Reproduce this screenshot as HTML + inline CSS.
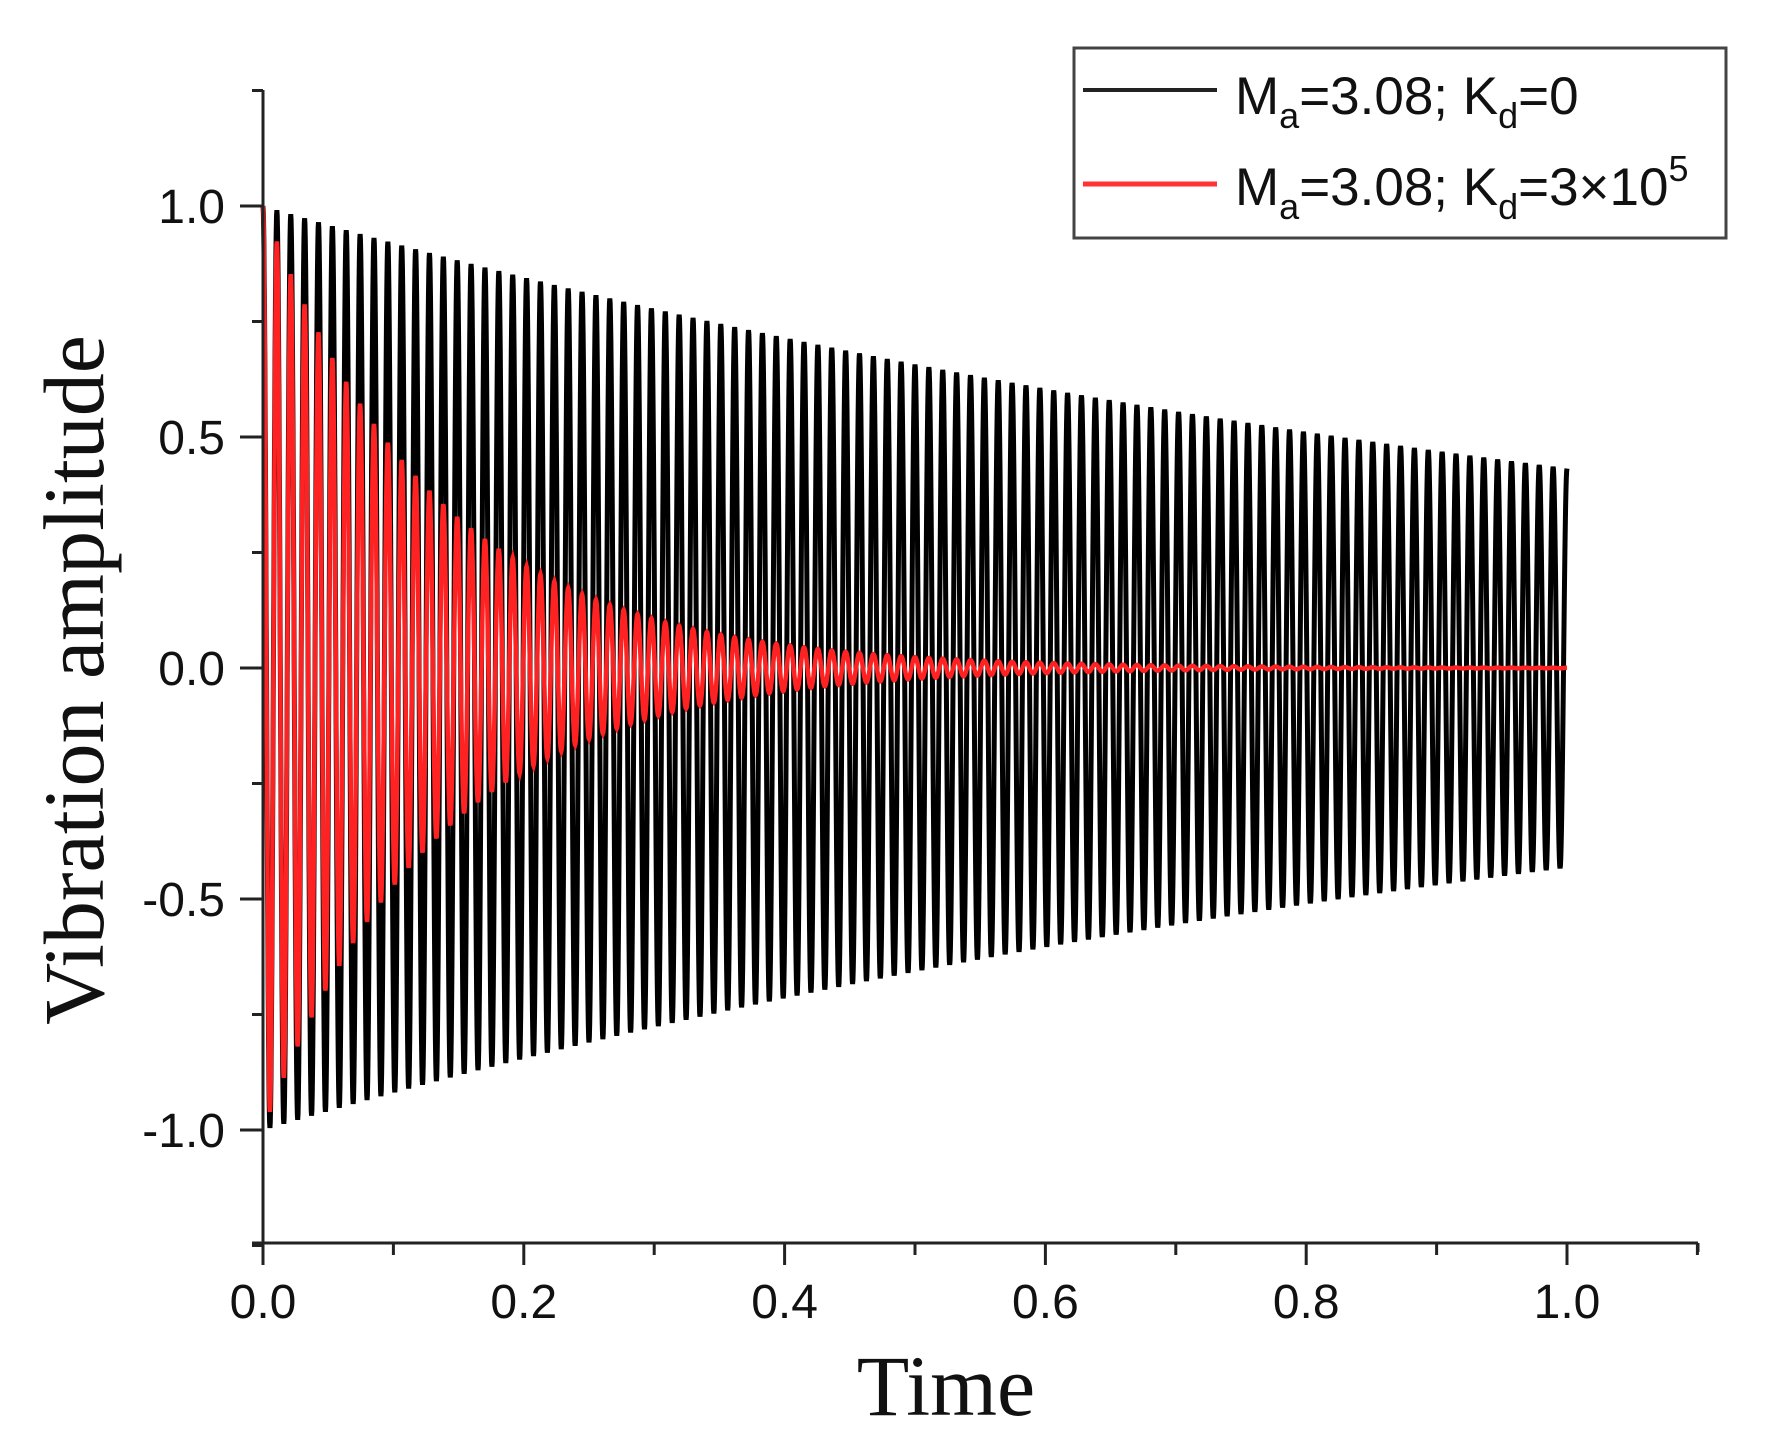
<!DOCTYPE html>
<html><head><meta charset="utf-8"><style>
html,body{margin:0;padding:0;background:#fff;}
svg{display:block;}
</style></head><body>
<svg id="s" width="1781" height="1454" viewBox="0 0 1781 1454" xmlns="http://www.w3.org/2000/svg">
<rect width="1781" height="1454" fill="#fff"/>
<g id="series"></g>
<g stroke="#222" stroke-width="3" fill="none">
<line x1="263" y1="90" x2="263" y2="1243"/>
<line x1="252" y1="1243" x2="1698" y2="1243"/>
<line x1="1698" y1="1243" x2="1698" y2="1252"/>
</g>
<g id="ticks" stroke="#222" stroke-width="3"></g>
<g font-family="Liberation Sans, sans-serif" font-size="48" fill="#111" id="lbl"></g>
<text x="946" y="1415" font-family="Liberation Serif, serif" font-size="86" text-anchor="middle" fill="#111">Time</text>
<text transform="translate(103,680) rotate(-90)" font-family="Liberation Serif, serif" font-size="86" text-anchor="middle" fill="#111">Vibration amplitude</text>
<rect x="1074" y="48" width="652" height="190" fill="#fff" stroke="#444" stroke-width="3"/>
<line x1="1083" y1="90" x2="1217" y2="90" stroke="#222" stroke-width="4"/>
<line x1="1083" y1="184" x2="1217" y2="184" stroke="#f33" stroke-width="5"/>
<g font-family="Liberation Sans, sans-serif" font-size="53" fill="#111">
<text x="1235" y="114">M<tspan font-size="36" dy="14">a</tspan><tspan dy="-14">=3.08; K</tspan><tspan font-size="36" dy="14">d</tspan><tspan dy="-14">=0</tspan></text>
<text x="1235" y="205">M<tspan font-size="36" dy="14">a</tspan><tspan dy="-14">=3.08; K</tspan><tspan font-size="36" dy="14">d</tspan><tspan dy="-14">=3×10</tspan><tspan font-size="36" dy="-24">5</tspan></text>
</g>
</svg>
<script>
var X0=263,XS=1304,Y0=668,YS=462,NS="http://www.w3.org/2000/svg";
function px(t){return X0+t*XS;}function py(v){return Y0-v*YS;}
var tk=document.getElementById('ticks'),lb=document.getElementById('lbl');
function ln(a,b,c,d){var l=document.createElementNS(NS,'line');l.setAttribute('x1',a);l.setAttribute('y1',b);l.setAttribute('x2',c);l.setAttribute('y2',d);tk.appendChild(l);}
function tx(x,y,s,anc){var t=document.createElementNS(NS,'text');t.setAttribute('x',x);t.setAttribute('y',y);t.setAttribute('text-anchor',anc);t.textContent=s;lb.appendChild(t);}
for(var i=0;i<=11;i++){var x=px(i/10);var maj=i%2==0;ln(x,1243,x,maj?1265:1255);if(maj&&i<=10)tx(x,1318,(i/10).toFixed(1),'middle');}
for(var j=-5;j<=5;j++){var v=j*0.25;var y=py(v);var maj=j%2==0;ln(maj?240:252,y,263,y);if(maj&&Math.abs(v)<=1)tx(225,y+17,(v<0?'-':'')+Math.abs(v).toFixed(1),'end');}
var g=document.getElementById('series');
function series(f,dec,ph,col,w){var d='',N=Math.round(f*40);for(var k=0;k<=N;k++){var t=k/N;var v=Math.exp(-dec*t)*Math.cos(2*Math.PI*f*t+ph);d+=(k?'L':'M')+px(t).toFixed(2)+' '+py(v).toFixed(2);}
var p=document.createElementNS(NS,'path');p.setAttribute('d',d);p.setAttribute('fill','none');p.setAttribute('stroke',col);p.setAttribute('stroke-width',w);g.appendChild(p);}
series(94,0.84,0,'#000',5);
series(94,7.5,0,'#f22',4.5);
</script>
</body></html>
